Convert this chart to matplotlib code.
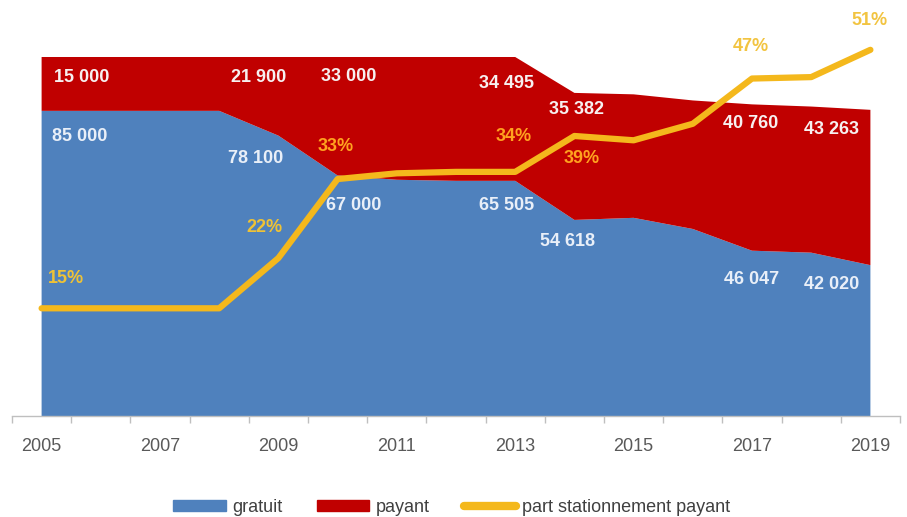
import matplotlib.pyplot as plt
from matplotlib.patches import Patch
from matplotlib.lines import Line2D

years = list(range(2005, 2020))
gratuit = [85000, 85000, 85000, 85000, 78100, 67000, 65800, 65505, 65505,
           54618, 55200, 52100, 46047, 45500, 42020]
payant = [15000, 15000, 15000, 15000, 21900, 33000, 34200, 34495, 34495,
          35382, 34400, 35800, 40760, 40700, 43263]
part_payant = [15, 15, 15, 15, 22, 33, 33.8, 34, 34, 39, 38.4, 40.7, 47, 47.2, 51]

# which years get a value label
num_label_years = [2005, 2009, 2010, 2013, 2014, 2017, 2019]
pct_label_years = [2005, 2009, 2010, 2013, 2014, 2017, 2019]

BLUE = '#4F81BD'
RED = '#C00000'
YELLOW = '#F4B81C'
LABEL_FONT = ['Liberation Sans', 'DejaVu Sans']

# label placement (x in years, y in data units)
payant_pos = [(2005.67, 94400), (2008.67, 94200), (2010.19, 94500), (2012.86, 92700),
              (2014.03, 85400), (2016.98, 81500), (2018.35, 79900)]
gratuit_pos = [(2005.65, 77800), (2008.62, 71600), (2010.28, 58600), (2012.86, 58500),
               (2013.89, 48500), (2017.0, 37900), (2018.35, 36500)]
pct_pos = [(2005.41, 19.2), (2008.76, 26.2), (2009.97, 37.5), (2012.97, 38.9),
           (2014.13, 35.8), (2016.98, 51.4), (2018.99, 55.1)]
pct_colors = ['#EEC236', '#EEC236', '#FFA21F', '#FFA21F', '#FFA21F', '#F2C441', '#F2C441']


def fmt(v):
    return f"{v:,}".replace(',', ' ')


fig = plt.figure(figsize=(9.07, 5.17), dpi=100)
ax = fig.add_axes([12 / 907, 101 / 517, 888 / 907, 416 / 517])

ax.stackplot(years, gratuit, payant, colors=[BLUE, RED], linewidth=0)
ymax = 416 / 3.59 * 1000
ax.set_ylim(0, ymax)
ax.set_xlim(2004.5, 2019.5)

for s in ['left', 'right', 'top']:
    ax.spines[s].set_visible(False)
ax.spines['bottom'].set_color('#BFBFBF')
ax.spines['bottom'].set_linewidth(1)
ax.set_yticks([])
ax.set_xticks(years[::2])
ax.set_xticklabels([str(y) for y in years[::2]], fontsize=13, color='#595959',
                   family='Liberation Sans')
ax.set_xticks([y - 0.5 for y in years] + [2019.5], minor=True)
ax.tick_params(axis='x', which='major', length=0, pad=16)
ax.tick_params(axis='x', which='minor', length=5, color='#BFBFBF', width=1)

idx = [years.index(y) for y in num_label_years]
for i, (x, y) in zip(idx, payant_pos):
    ax.text(x, y, fmt(payant[i]), ha='center', va='center', fontsize=13,
            fontweight='bold', color='#F7F0F0', family=LABEL_FONT)
for i, (x, y) in zip(idx, gratuit_pos):
    ax.text(x, y, fmt(gratuit[i]), ha='center', va='center', fontsize=13,
            fontweight='bold', color='#E9EFF8', family=LABEL_FONT)

ax2 = ax.twinx()
ax2.plot(years, part_payant, color=YELLOW, lw=4.5, solid_capstyle='round',
         solid_joinstyle='round')
ax2.set_ylim(0, ymax / 2000)
ax2.axis('off')

pidx = [years.index(y) for y in pct_label_years]
for i, (x, y), c in zip(pidx, pct_pos, pct_colors):
    ax2.text(x, y, f"{part_payant[i]:.0f}%", ha='center', va='center', fontsize=13,
             fontweight='bold', color=c, family=LABEL_FONT)

handles = [Patch(color=BLUE, label='gratuit'),
           Patch(color=RED, label='payant'),
           Line2D([], [], color=YELLOW, lw=6, solid_capstyle='round',
                  label='part stationnement payant')]
fig.legend(handles=handles, loc='center', bbox_to_anchor=(452 / 907, 10 / 517),
           ncol=3, frameon=False, handlelength=2.9, handleheight=0.55,
           handletextpad=0.35, columnspacing=1.9,
           prop={'family': 'Liberation Sans', 'size': 13}, labelcolor='#404040')

fig.savefig('out.png', dpi=100)
